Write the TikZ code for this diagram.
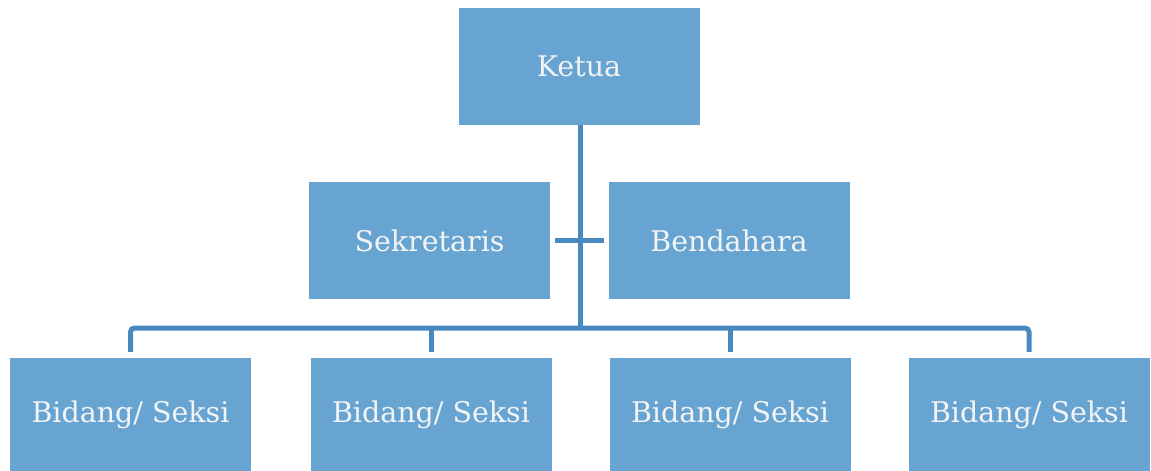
\documentclass[tikz,border=0pt]{standalone}
\usepackage{fontspec}
\setmainfont{DejaVu Serif}
\definecolor{boxblue}{RGB}{104,164,210}
\definecolor{lineblue}{RGB}{72,138,192}
\definecolor{txt}{RGB}{242,244,246}
\begin{document}
\begin{tikzpicture}[x=1pt,y=-1pt,
  orgbox/.style={rectangle, fill=boxblue, draw=none, text=txt, inner sep=0pt,
    minimum width=241pt, minimum height=117pt, font=\fontsize{28.5}{32}\selectfont},
  conn/.style={draw=lineblue, line width=5pt}]
\useasboundingbox (0,0) rectangle (1151,471);
\node[orgbox] (ketua) at (579,66.5) {Ketua};
\node[orgbox] (sek) at (429.5,240.5) {Sekretaris};
\node[orgbox] (ben) at (729,240.5) {Bendahara};
\node[orgbox, minimum height=113pt] (b1) at (130.5,414.5) {Bidang/ Seksi};
\node[orgbox, minimum height=113pt] (b2) at (431,414.5) {Bidang/ Seksi};
\node[orgbox, minimum height=113pt] (b3) at (730,414.5) {Bidang/ Seksi};
\node[orgbox, minimum height=113pt] (b4) at (1029,414.5) {Bidang/ Seksi};
\coordinate (bus) at (580,328);
\draw[conn] (ketua.south -| bus) -- (bus);
\draw[conn] ([xshift=5pt]sek.east) -- ([xshift=-4pt]ben.west);
\draw[conn, rounded corners=4pt] ([yshift=6pt]b1.north) |- (bus) -| ([yshift=6pt]b4.north);
\draw[conn] ([yshift=6pt]b2.north) -- (b2.north |- bus);
\draw[conn] ([yshift=6pt]b3.north) -- (b3.north |- bus);
\end{tikzpicture}
\end{document}
